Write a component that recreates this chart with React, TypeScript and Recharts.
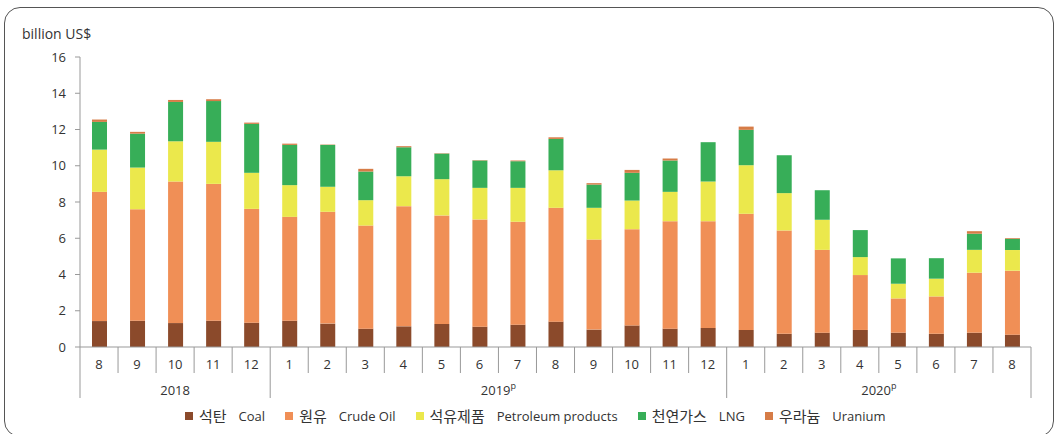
import { FC } from "react";
import { BarChart, Bar, XAxis, YAxis } from "recharts";

const months = ["8", "9", "10", "11", "12", "1", "2", "3", "4", "5", "6", "7", "8", "9", "10", "11", "12", "1", "2", "3", "4", "5", "6", "7", "8"];
const years = ["2018", "2019", "2020"];
const groupSizes = [5, 12, 8];
const yTicks = [0, 2, 4, 6, 8, 10, 12, 14, 16];

const coal = [1.43, 1.45, 1.32, 1.45, 1.34, 1.45, 1.29, 1.01, 1.14, 1.27, 1.12, 1.23, 1.4, 0.96, 1.19, 1.01, 1.05, 0.94, 0.73, 0.79, 0.94, 0.79, 0.73, 0.79, 0.68];
const crude = [7.13, 6.15, 7.81, 7.55, 6.28, 5.73, 6.17, 5.69, 6.63, 5.99, 5.92, 5.68, 6.28, 4.97, 5.31, 5.93, 5.89, 6.41, 5.7, 4.57, 3.03, 1.89, 2.06, 3.31, 3.53];
const petroleum = [2.33, 2.3, 2.22, 2.32, 1.99, 1.75, 1.38, 1.4, 1.65, 2.0, 1.74, 1.87, 2.07, 1.75, 1.58, 1.62, 2.19, 2.68, 2.06, 1.66, 0.99, 0.81, 0.98, 1.26, 1.14];
const lng = [1.53, 1.87, 2.17, 2.25, 2.7, 2.22, 2.31, 1.58, 1.6, 1.41, 1.51, 1.47, 1.73, 1.28, 1.53, 1.73, 2.17, 1.95, 2.09, 1.63, 1.49, 1.4, 1.13, 0.89, 0.62];
const uranium = [0.13, 0.1, 0.11, 0.1, 0.07, 0.07, 0.02, 0.15, 0.06, 0.02, 0.02, 0.04, 0.09, 0.08, 0.16, 0.11, 0, 0.18, 0, 0, 0, 0, 0, 0.14, 0.04];

const series = [
  { key: "coal", ko: "석탄", en: "Coal", color: "#8b4a2b" },
  { key: "crude", ko: "원유", en: "Crude Oil", color: "#f08f56" },
  { key: "petroleum", ko: "석유제품", en: "Petroleum products", color: "#ebe84c" },
  { key: "lng", ko: "천연가스", en: "LNG", color: "#37ae58" },
  { key: "uranium", ko: "우라늄", en: "Uranium", color: "#d67c47" },
];

const data = months.map((m, i) => ({
  month: m,
  coal: coal[i],
  crude: crude[i],
  petroleum: petroleum[i],
  lng: lng[i],
  uranium: uranium[i],
}));

const W = 1058;
const H = 434;
const margin = { top: 57, right: 27, left: 20, bottom: 36 };
const Y_WIDTH = 60;
const plotW = W - margin.left - margin.right - Y_WIDTH;
const band = plotW / months.length;
const FONT = "'Open Sans', 'Noto Sans CJK KR', sans-serif";
const AXIS = "#999";

// index where each year group starts
const groupStarts: number[] = [];
groupSizes.reduce((acc, n) => {
  groupStarts.push(acc);
  return acc + n;
}, 0);

const MonthTick = (props: any) => {
  const { x, y, payload } = props;
  const i: number = payload.index ?? props.index;
  const g = groupStarts.indexOf(i);
  const isGroupEnd = groupStarts.includes(i + 1) || i === months.length - 1;
  const left = x - band / 2;
  const right = x + band / 2;
  return (
    <g>
      <text x={x} y={y + 22} textAnchor="middle" fontSize={13} fill="#333" fontFamily={FONT}>
        {payload.value}
      </text>
      <line x1={right} x2={right} y1={y} y2={isGroupEnd ? y + 51 : y + 26} stroke={AXIS} />
      {i === 0 && <line x1={left} x2={left} y1={y} y2={y + 51} stroke={AXIS} />}
      {g >= 0 && (
        <text x={left + (groupSizes[g] * band) / 2} y={y + 48} textAnchor="middle" fontSize={13} fill="#333" fontFamily={FONT}>
          {years[g]}
          {g > 0 && (
            <tspan fontSize={9} dy={-6}>
              p
            </tspan>
          )}
        </text>
      )}
    </g>
  );
};

const App: FC = () => {
  return (
    <div style={{ position: "absolute", left: 0, top: 0, width: W, height: H, background: "#fff", fontFamily: FONT }}>
      <div
        style={{
          position: "absolute",
          left: 4,
          top: 7,
          width: 1050,
          height: 430,
          border: "1px solid #555",
          borderRadius: 16,
          boxSizing: "border-box",
        }}
      />
      <div style={{ position: "absolute", left: 22, top: 24, fontSize: 14, color: "#333" }}>billion US$</div>
      <div style={{ position: "absolute", left: 0, top: 0 }}>
        <BarChart width={W} height={H} data={data} margin={margin} barSize={15}>
          <YAxis
            domain={[0, 16]}
            ticks={yTicks}
            width={Y_WIDTH}
            tickSize={5}
            tickMargin={9}
            axisLine={{ stroke: AXIS }}
            tickLine={{ stroke: AXIS }}
            tick={{ fontSize: 13, fill: "#333", fontFamily: FONT }}
            interval={0}
          />
          <XAxis
            dataKey="month"
            height={51}
            interval={0}
            tickSize={0}
            tickMargin={0}
            tickLine={false}
            axisLine={{ stroke: AXIS }}
            tick={MonthTick}
          />
          {series.map((s) => (
            <Bar key={s.key} dataKey={s.key} stackId="a" fill={s.color} isAnimationActive={false} />
          ))}
        </BarChart>
      </div>
      <div
        style={{
          position: "absolute",
          left: 185,
          top: 405,
          display: "flex",
          alignItems: "center",
          gap: 20,
          fontSize: 13,
          color: "#333",
          whiteSpace: "nowrap",
        }}
      >
        {series.map((s) => (
          <div key={s.key} style={{ display: "flex", alignItems: "center" }}>
            <span style={{ display: "inline-block", width: 8, height: 8, background: s.color, marginRight: 6 }} />
            <span style={{ fontSize: 15 }}>{s.ko}</span>
            <span style={{ marginLeft: 12 }}>{s.en}</span>
          </div>
        ))}
      </div>
    </div>
  );
};

export default App;
